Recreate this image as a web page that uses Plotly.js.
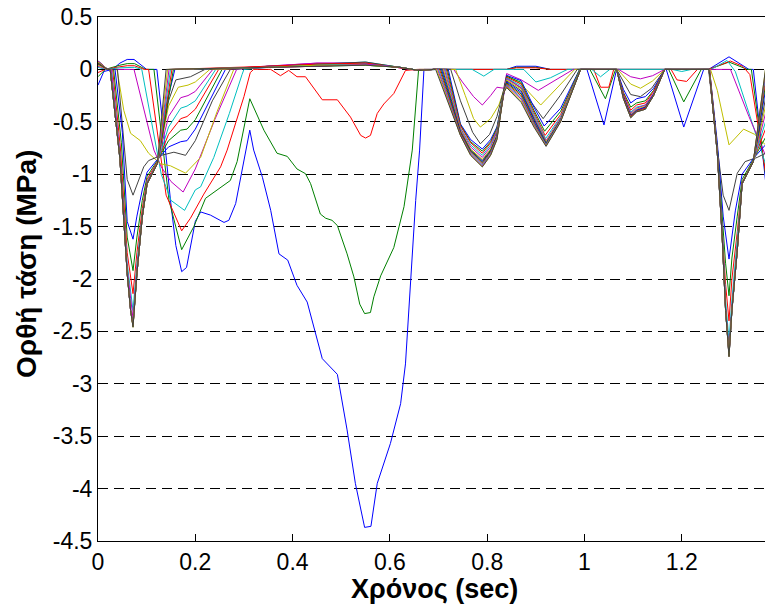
<!DOCTYPE html>
<html>
<head>
<meta charset="utf-8">
<script src="https://cdn.plot.ly/plotly-3.0.1.min.js"></script>
<style>html,body{margin:0;padding:0;background:#fff;}#chart{width:765px;height:615px;}</style>
</head>
<body>
<div id="chart"></div>
<script>
// Tick labels
const xTickVals = [0, 0.2, 0.4, 0.6, 0.8, 1, 1.2];
const xTickText = ["0", "0.2", "0.4", "0.6", "0.8", "1", "1.2"];
const yTickVals = [0.5, 0, -0.5, -1, -1.5, -2, -2.5, -3, -3.5, -4, -4.5];
const yTickText = ["0.5", "0", "-0.5", "-1", "-1.5", "-2", "-2.5", "-3", "-3.5", "-4", "-4.5"];
const xTitle = "Χρόνος (sec)";
const yTitle = "Ορθή τάση (MPa)";

// Series: [time (sec), stress (MPa)]
const c01 = [[0,-0.15],[0.012,-0.02],[0.03,0],[0.045,0.06],[0.06,0.095],[0.074,0.095],[0.1,0],[0.121,0],[0.135,-0.6],[0.149,-1.25],[0.16,-1.68],[0.172,-1.93],[0.182,-1.89],[0.2,-1.45],[0.211,-1.36],[0.231,-1.39],[0.259,-1.46],[0.269,-1.44],[0.283,-1.28],[0.296,-0.96],[0.307,-0.72],[0.312,-0.58],[0.32,-0.77],[0.338,-1.03],[0.355,-1.345],[0.372,-1.76],[0.39,-1.82],[0.409,-2.06],[0.43,-2.22],[0.447,-2.51],[0.461,-2.76],[0.492,-2.91],[0.512,-3.44],[0.529,-3.95],[0.548,-4.37],[0.561,-4.36],[0.574,-3.95],[0.601,-3.57],[0.622,-3.19],[0.632,-2.81],[0.642,-2.04],[0.653,-1.25],[0.661,-0.77],[0.67,0],[0.84,0],[0.86,0.03],[0.9,0.03],[0.93,0],[1.005,0],[1.04,-0.53],[1.066,0],[1.168,0],[1.204,-0.55],[1.245,0],[1.255,0],[1.297,0.12],[1.338,0],[1.347,0],[1.372,-1.06]];
const c02 = [[0,-0.07],[0.015,0],[0.045,0.04],[0.06,0.055],[0.075,0.055],[0.098,0],[0.115,0],[0.13,-0.6],[0.146,-1.25],[0.172,-1.72],[0.197,-1.5],[0.221,-1.23],[0.245,-1.15],[0.272,-1.06],[0.286,-0.88],[0.3,-0.55],[0.312,-0.28],[0.341,-0.58],[0.368,-0.8],[0.389,-0.83],[0.409,-0.95],[0.4265,-0.995],[0.437,-1.09],[0.457,-1.38],[0.468,-1.42],[0.481,-1.44],[0.492,-1.49],[0.512,-1.76],[0.526,-1.98],[0.538,-2.24],[0.548,-2.33],[0.56,-2.32],[0.567,-2.17],[0.581,-1.97],[0.608,-1.7],[0.629,-1.31],[0.639,-1.0],[0.646,-0.77],[0.659,0],[0.84,0],[0.86,0.02],[0.9,0.02],[0.93,0],[1.011,0],[1.043,-0.28],[1.064,0],[1.173,0],[1.204,-0.31],[1.24,0],[1.255,0],[1.297,0.07],[1.335,0],[1.343,0],[1.372,-1.0]];
const c03 = [[0,-0.03],[0.015,0],[0.045,0.025],[0.06,0.035],[0.075,0.035],[0.095,0],[0.104,0],[0.12,-0.55],[0.14,-1.2],[0.172,-1.54],[0.19,-1.42],[0.2175,-1.19],[0.252,-0.93],[0.2655,-0.77],[0.3,-0.26],[0.313,-0.03],[0.32,0],[0.355,0],[0.365,-0.03],[0.375,-0.06],[0.392,-0.01],[0.409,-0.07],[0.4265,-0.07],[0.4436,-0.18],[0.461,-0.29],[0.492,-0.29],[0.519,-0.455],[0.54,-0.63],[0.55,-0.655],[0.56,-0.63],[0.574,-0.42],[0.5875,-0.33],[0.608,-0.23],[0.632,-0.01],[0.656,0],[0.84,0],[0.86,0.015],[0.9,0.015],[0.93,0],[1.019,0],[1.033,-0.17],[1.05,-0.17],[1.06,0],[1.178,0],[1.19,-0.1],[1.21,-0.115],[1.232,0],[1.255,0],[1.3,0.08],[1.325,0.03],[1.34,-0.05],[1.372,-0.98]];
const c04 = [[0,0.02],[0.015,0],[0.045,0.015],[0.06,0.02],[0.075,0.02],[0.09,0],[0.11,-0.5],[0.13,-1.0],[0.15,-1.25],[0.178,-1.345],[0.2,-1.15],[0.211,-1.12],[0.238,-0.84],[0.27,-0.42],[0.296,-0.05],[0.3,0],[0.35,0.02],[0.45,0.04],[0.55,0.04],[0.62,0.02],[0.66,-0.01],[0.69,0],[0.769,0],[0.793,-0.064],[0.814,0],[0.875,0],[0.9,-0.12],[0.93,-0.08],[0.965,0],[1.015,0],[1.033,-0.07],[1.052,0],[1.18,0],[1.2,-0.02],[1.22,0],[1.26,0],[1.293,0.085],[1.31,-0.02],[1.334,-0.36],[1.372,-0.9]];
const c05 = [[0,0.03],[0.02,0],[0.074,0],[0.1,-0.5],[0.115,-0.77],[0.13,-0.93],[0.15,-1.07],[0.175,-1.17],[0.2,-0.95],[0.24,-0.48],[0.285,0],[0.35,0.03],[0.45,0.06],[0.55,0.06],[0.62,0.02],[0.66,-0.01],[0.69,0],[0.731,0],[0.749,-0.12],[0.772,-0.26],[0.79,-0.34],[0.807,-0.25],[0.82,-0.17],[0.834,-0.18],[0.84,-0.04],[0.87,-0.1],[0.905,-0.2],[0.94,-0.1],[0.977,0],[1.07,0],[1.095,-0.07],[1.115,-0.09],[1.14,-0.06],[1.165,0],[1.3,0],[1.338,-0.45],[1.372,-0.82]];
const c06 = [[0,0.04],[0.02,0],[0.039,0],[0.053,-0.39],[0.067,-0.61],[0.087,-0.68],[0.104,-0.8],[0.128,-0.9],[0.149,-0.92],[0.18,-0.99],[0.211,-0.84],[0.245,-0.4],[0.279,0],[0.35,0.03],[0.45,0.05],[0.55,0.06],[0.62,0.02],[0.66,-0.01],[0.69,0],[0.735,0],[0.755,-0.25],[0.772,-0.47],[0.786,-0.55],[0.807,-0.47],[0.824,-0.34],[0.834,-0.2],[0.84,-0.06],[0.87,-0.14],[0.91,-0.34],[0.945,-0.17],[0.98,0],[1.068,0],[1.095,-0.14],[1.115,-0.18],[1.14,-0.11],[1.165,0],[1.259,0],[1.273,-0.2],[1.297,-0.72],[1.327,-0.57],[1.35,-0.62],[1.372,-0.72]];
const c07 = [[0,0.05],[0.02,0],[0.04,0],[0.06,-1.05],[0.072,-1.2],[0.094,-0.93],[0.104,-0.87],[0.13,-0.82],[0.156,-0.79],[0.18,-0.82],[0.2,-0.68],[0.235,-0.3],[0.272,0],[0.35,0.03],[0.45,0.05],[0.55,0.05],[0.62,0.02],[0.66,-0.01],[0.69,0],[0.725,0],[0.745,-0.3],[0.77,-0.6],[0.786,-0.71],[0.805,-0.62],[0.82,-0.45],[0.834,-0.21],[0.84,-0.08],[0.87,-0.18],[0.915,-0.47],[0.95,-0.25],[0.985,0],[1.066,0],[1.095,-0.24],[1.115,-0.26],[1.138,-0.18],[1.165,0],[1.255,0],[1.273,-0.75],[1.285,-1.2],[1.297,-1.345],[1.314,-0.99],[1.33,-0.88],[1.355,-0.84],[1.372,-0.8]];
const c08 = [[0,0.06],[0.02,0],[0.035,0],[0.05,-0.6],[0.06,-1.45],[0.072,-1.62],[0.08,-1.4],[0.091,-1.15],[0.101,-0.98],[0.122,-0.86],[0.145,-0.74],[0.17,-0.69],[0.183,-0.68],[0.2,-0.57],[0.262,0],[0.35,0.02],[0.45,0.04],[0.55,0.05],[0.62,0.02],[0.66,-0.01],[0.69,0],[0.72,0],[0.745,-0.52],[0.766,-0.67],[0.79,-0.76],[0.807,-0.67],[0.82,-0.55],[0.834,-0.22],[0.84,-0.057],[0.87,-0.108],[0.896,-0.36],[0.917,-0.54],[0.951,-0.37],[0.971,-0.18],[0.99,0],[1.066,0],[1.08,-0.19],[1.095,-0.32],[1.107,-0.28],[1.125,-0.26],[1.142,-0.18],[1.165,0],[1.257,0],[1.273,-0.7],[1.285,-1.4],[1.297,-1.81],[1.31,-1.35],[1.324,-1.0],[1.347,-0.85],[1.372,-0.72]];
const c09 = [[0,0.07],[0.02,0],[0.032,0],[0.048,-0.7],[0.06,-1.6],[0.072,-1.92],[0.08,-1.6],[0.091,-1.25],[0.101,-1.02],[0.122,-0.87],[0.145,-0.68],[0.17,-0.58],[0.183,-0.57],[0.2,-0.48],[0.255,0],[0.35,0.03],[0.45,0.05],[0.55,0.06],[0.62,0.02],[0.66,-0.01],[0.69,0],[0.718,0],[0.745,-0.53],[0.766,-0.69],[0.79,-0.78],[0.807,-0.69],[0.82,-0.56],[0.834,-0.22],[0.84,-0.066],[0.87,-0.124],[0.896,-0.39],[0.918,-0.59],[0.951,-0.4],[0.971,-0.2],[0.99,0],[1.066,0],[1.08,-0.22],[1.095,-0.36],[1.107,-0.32],[1.125,-0.3],[1.142,-0.2],[1.165,0],[1.257,0],[1.273,-0.75],[1.284,-1.45],[1.29,-1.85],[1.297,-2.16],[1.303,-1.8],[1.314,-1.4],[1.324,-1.05],[1.347,-0.86],[1.372,-0.65]];
const c10 = [[0,0.07],[0.02,0],[0.03,0],[0.046,-0.75],[0.06,-1.75],[0.072,-2.14],[0.08,-1.75],[0.091,-1.33],[0.101,-1.05],[0.122,-0.88],[0.145,-0.62],[0.17,-0.47],[0.183,-0.45],[0.2,-0.38],[0.248,0],[0.35,0.02],[0.45,0.03],[0.55,0.05],[0.62,0.02],[0.66,-0.01],[0.69,0],[0.716,0],[0.745,-0.54],[0.766,-0.7],[0.79,-0.8],[0.807,-0.7],[0.82,-0.58],[0.834,-0.22],[0.84,-0.075],[0.87,-0.14],[0.896,-0.41],[0.919,-0.63],[0.951,-0.43],[0.971,-0.21],[0.991,0],[1.066,0],[1.08,-0.23],[1.095,-0.39],[1.107,-0.34],[1.125,-0.32],[1.142,-0.21],[1.165,0],[1.257,0],[1.273,-0.77],[1.284,-1.55],[1.29,-2.05],[1.297,-2.4],[1.303,-2.0],[1.314,-1.55],[1.324,-1.08],[1.347,-0.87],[1.372,-0.57]];
const c11 = [[0,0.08],[0.02,0],[0.028,0],[0.045,-0.8],[0.06,-1.85],[0.072,-2.3],[0.08,-1.85],[0.091,-1.38],[0.101,-1.07],[0.122,-0.89],[0.145,-0.55],[0.17,-0.37],[0.183,-0.35],[0.2,-0.3],[0.242,0],[0.35,0.03],[0.45,0.05],[0.55,0.07],[0.62,0.02],[0.66,-0.01],[0.69,0],[0.714,0],[0.745,-0.56],[0.766,-0.72],[0.79,-0.82],[0.807,-0.72],[0.82,-0.59],[0.834,-0.22],[0.84,-0.084],[0.87,-0.156],[0.896,-0.43],[0.92,-0.66],[0.951,-0.45],[0.971,-0.22],[0.991,0],[1.066,0],[1.08,-0.25],[1.095,-0.41],[1.107,-0.36],[1.125,-0.34],[1.142,-0.23],[1.165,0],[1.256,0],[1.273,-0.78],[1.284,-1.6],[1.29,-2.2],[1.297,-2.59],[1.303,-2.2],[1.314,-1.65],[1.324,-1.09],[1.347,-0.88],[1.372,-0.5]];
const c12 = [[0,0.08],[0.02,0],[0.027,0],[0.045,-0.8],[0.06,-1.9],[0.072,-2.38],[0.08,-1.9],[0.091,-1.4],[0.101,-1.08],[0.122,-0.89],[0.145,-0.45],[0.17,-0.27],[0.185,-0.25],[0.2,-0.21],[0.236,0],[0.35,0.03],[0.45,0.06],[0.55,0.06],[0.62,0.02],[0.66,-0.01],[0.69,0],[0.712,0],[0.745,-0.57],[0.766,-0.74],[0.79,-0.84],[0.807,-0.74],[0.82,-0.6],[0.834,-0.22],[0.84,-0.093],[0.87,-0.172],[0.896,-0.45],[0.921,-0.68],[0.951,-0.46],[0.971,-0.23],[0.992,0],[1.066,0],[1.08,-0.25],[1.095,-0.42],[1.107,-0.37],[1.125,-0.34],[1.142,-0.23],[1.165,0],[1.256,0],[1.273,-0.79],[1.284,-1.62],[1.29,-2.28],[1.297,-2.67],[1.303,-2.27],[1.314,-1.7],[1.324,-1.09],[1.347,-0.88],[1.372,-0.42]];
const c13 = [[0,0.07],[0.02,0],[0.025,0],[0.045,-0.85],[0.06,-1.95],[0.067,-2.3],[0.072,-2.42],[0.08,-1.95],[0.091,-1.41],[0.101,-1.09],[0.122,-0.89],[0.145,-0.35],[0.165,-0.17],[0.185,-0.15],[0.2,-0.12],[0.23,0],[0.35,0.02],[0.45,0.04],[0.55,0.06],[0.62,0.02],[0.66,-0.01],[0.69,0],[0.71,0],[0.745,-0.58],[0.766,-0.76],[0.79,-0.86],[0.807,-0.76],[0.82,-0.62],[0.834,-0.22],[0.84,-0.102],[0.87,-0.188],[0.896,-0.46],[0.921,-0.69],[0.951,-0.47],[0.971,-0.23],[0.992,0],[1.066,0],[1.08,-0.26],[1.095,-0.43],[1.107,-0.38],[1.125,-0.35],[1.142,-0.24],[1.165,0],[1.256,0],[1.273,-0.8],[1.283,-1.6],[1.29,-2.3],[1.297,-2.71],[1.303,-2.3],[1.314,-1.72],[1.324,-1.09],[1.347,-0.88],[1.372,-0.35]];
const c14 = [[0,0.06],[0.02,0],[0.025,0],[0.045,-0.85],[0.06,-1.95],[0.067,-2.3],[0.072,-2.44],[0.08,-1.95],[0.091,-1.41],[0.101,-1.09],[0.122,-0.9],[0.145,-0.3],[0.16,-0.1],[0.19,-0.07],[0.22,0],[0.35,0.03],[0.45,0.05],[0.55,0.07],[0.62,0.02],[0.66,-0.01],[0.69,0],[0.708,0],[0.745,-0.59],[0.766,-0.77],[0.79,-0.87],[0.807,-0.77],[0.82,-0.63],[0.834,-0.22],[0.84,-0.111],[0.87,-0.204],[0.896,-0.47],[0.921,-0.7],[0.951,-0.48],[0.971,-0.24],[0.992,0],[1.066,0],[1.08,-0.26],[1.095,-0.44],[1.107,-0.39],[1.125,-0.36],[1.142,-0.24],[1.165,0],[1.256,0],[1.273,-0.8],[1.283,-1.6],[1.29,-2.3],[1.297,-2.72],[1.303,-2.3],[1.314,-1.73],[1.324,-1.09],[1.347,-0.88],[1.372,-0.28]];
const c15 = [[0,0.07],[0.02,0],[0.025,0],[0.045,-0.85],[0.06,-1.95],[0.067,-2.3],[0.072,-2.44],[0.08,-1.95],[0.091,-1.41],[0.101,-1.09],[0.122,-0.9],[0.14,-0.35],[0.158,0],[0.35,0.02],[0.45,0.04],[0.55,0.05],[0.62,0.02],[0.66,-0.01],[0.69,0],[0.706,0],[0.745,-0.6],[0.766,-0.78],[0.79,-0.88],[0.807,-0.78],[0.82,-0.64],[0.834,-0.22],[0.84,-0.12],[0.87,-0.22],[0.896,-0.48],[0.921,-0.71],[0.951,-0.48],[0.971,-0.24],[0.992,0],[1.066,0],[1.08,-0.26],[1.095,-0.44],[1.107,-0.39],[1.125,-0.36],[1.142,-0.24],[1.165,0],[1.256,0],[1.273,-0.8],[1.283,-1.6],[1.29,-2.3],[1.297,-2.73],[1.303,-2.3],[1.314,-1.73],[1.324,-1.09],[1.347,-0.88],[1.372,-0.2]];
const c16 = [[0,0.08],[0.02,0],[0.025,0],[0.045,-0.85],[0.06,-1.95],[0.067,-2.3],[0.072,-2.45],[0.08,-1.95],[0.091,-1.41],[0.101,-1.09],[0.122,-0.9],[0.155,0],[0.35,0.02],[0.45,0.03],[0.55,0.04],[0.62,0.02],[0.66,-0.01],[0.69,0],[0.704,0],[0.745,-0.605],[0.766,-0.78],[0.79,-0.89],[0.807,-0.78],[0.82,-0.64],[0.834,-0.22],[0.84,-0.129],[0.87,-0.236],[0.896,-0.5],[0.921,-0.715],[0.951,-0.486],[0.971,-0.243],[0.992,0],[1.066,0],[1.08,-0.27],[1.095,-0.45],[1.107,-0.4],[1.125,-0.37],[1.142,-0.25],[1.165,0],[1.256,0],[1.273,-0.8],[1.283,-1.6],[1.29,-2.3],[1.297,-2.73],[1.303,-2.3],[1.314,-1.73],[1.324,-1.09],[1.347,-0.88],[1.372,-0.15]];
const c17 = [[0,0.06],[0.02,0],[0.025,0],[0.045,-0.85],[0.06,-1.95],[0.067,-2.3],[0.072,-2.45],[0.08,-1.95],[0.091,-1.41],[0.101,-1.09],[0.122,-0.9],[0.152,0],[0.35,0.03],[0.45,0.05],[0.55,0.06],[0.62,0.02],[0.66,-0.01],[0.69,0],[0.702,0],[0.745,-0.61],[0.766,-0.79],[0.79,-0.9],[0.807,-0.79],[0.82,-0.65],[0.834,-0.22],[0.84,-0.138],[0.87,-0.252],[0.896,-0.51],[0.921,-0.72],[0.951,-0.49],[0.971,-0.245],[0.992,0],[1.066,0],[1.08,-0.27],[1.095,-0.45],[1.107,-0.4],[1.125,-0.37],[1.142,-0.25],[1.165,0],[1.256,0],[1.273,-0.8],[1.283,-1.6],[1.29,-2.3],[1.297,-2.73],[1.303,-2.3],[1.314,-1.73],[1.324,-1.09],[1.347,-0.88],[1.372,-0.1]];
const c18 = [[0,0.07],[0.02,0],[0.025,0],[0.045,-0.85],[0.06,-1.95],[0.067,-2.3],[0.072,-2.45],[0.08,-1.95],[0.091,-1.41],[0.101,-1.09],[0.122,-0.9],[0.149,0],[0.35,0.02],[0.45,0.04],[0.55,0.05],[0.62,0.02],[0.66,-0.01],[0.69,0],[0.7,0],[0.745,-0.62],[0.766,-0.8],[0.79,-0.91],[0.807,-0.8],[0.82,-0.655],[0.834,-0.22],[0.84,-0.147],[0.87,-0.268],[0.896,-0.52],[0.921,-0.72],[0.951,-0.49],[0.971,-0.245],[0.992,0],[1.066,0],[1.08,-0.28],[1.095,-0.46],[1.107,-0.405],[1.125,-0.38],[1.142,-0.25],[1.165,0],[1.256,0],[1.273,-0.8],[1.283,-1.6],[1.29,-2.3],[1.297,-2.74],[1.303,-2.3],[1.314,-1.73],[1.324,-1.09],[1.347,-0.88],[1.372,-0.06]];
const c19 = [[0,0.08],[0.02,0],[0.025,0],[0.045,-0.85],[0.06,-1.95],[0.067,-2.3],[0.072,-2.45],[0.08,-1.95],[0.091,-1.41],[0.101,-1.09],[0.122,-0.9],[0.146,0],[0.35,0.02],[0.45,0.03],[0.55,0.05],[0.62,0.02],[0.66,-0.01],[0.69,0],[0.698,0],[0.745,-0.625],[0.766,-0.81],[0.79,-0.92],[0.807,-0.81],[0.82,-0.66],[0.834,-0.22],[0.84,-0.156],[0.87,-0.284],[0.896,-0.53],[0.921,-0.725],[0.951,-0.493],[0.971,-0.247],[0.992,0],[1.066,0],[1.08,-0.28],[1.095,-0.46],[1.107,-0.405],[1.125,-0.38],[1.142,-0.25],[1.165,0],[1.256,0],[1.273,-0.8],[1.283,-1.6],[1.29,-2.3],[1.297,-2.74],[1.303,-2.3],[1.314,-1.73],[1.324,-1.09],[1.347,-0.88],[1.372,-0.03]];
const c20 = [[0,0.07],[0.02,0],[0.025,0],[0.045,-0.85],[0.06,-1.95],[0.067,-2.3],[0.072,-2.46],[0.08,-1.95],[0.091,-1.41],[0.101,-1.09],[0.122,-0.9],[0.143,0],[0.35,0.02],[0.45,0.04],[0.55,0.04],[0.62,0.02],[0.66,-0.01],[0.69,0],[0.696,0],[0.745,-0.63],[0.766,-0.82],[0.79,-0.93],[0.807,-0.82],[0.82,-0.67],[0.834,-0.22],[0.84,-0.165],[0.87,-0.3],[0.896,-0.54],[0.921,-0.73],[0.951,-0.496],[0.971,-0.248],[0.992,0],[1.066,0],[1.08,-0.28],[1.095,-0.46],[1.107,-0.405],[1.125,-0.38],[1.142,-0.25],[1.165,0],[1.256,0],[1.273,-0.8],[1.283,-1.6],[1.29,-2.3],[1.297,-2.74],[1.303,-2.3],[1.314,-1.73],[1.324,-1.09],[1.347,-0.88],[1.372,0]];
const c21 = [[0,0.06],[0.02,0],[0.025,0],[0.045,-0.85],[0.06,-1.95],[0.067,-2.3],[0.072,-2.46],[0.08,-1.95],[0.091,-1.41],[0.101,-1.09],[0.122,-0.9],[0.14,0],[0.35,0.02],[0.45,0.03],[0.55,0.04],[0.62,0.02],[0.66,-0.01],[0.69,0],[0.694,0],[0.745,-0.63],[0.766,-0.82],[0.79,-0.93],[0.807,-0.82],[0.82,-0.67],[0.834,-0.22],[0.84,-0.174],[0.87,-0.316],[0.896,-0.55],[0.921,-0.735],[0.951,-0.5],[0.971,-0.25],[0.992,0],[1.066,0],[1.08,-0.28],[1.095,-0.46],[1.107,-0.405],[1.125,-0.38],[1.142,-0.25],[1.165,0],[1.256,0],[1.273,-0.8],[1.283,-1.6],[1.29,-2.3],[1.297,-2.74],[1.303,-2.3],[1.314,-1.73],[1.324,-1.09],[1.347,-0.88],[1.372,0]];

const seriesList = [c01,c02,c03,c04,c05,c06,c07,c08,c09,c10,c11,c12,c13,c14,c15,c16,c17,c18,c19,c20,c21];
const colorOrder = ["#0000ff","#008000","#ff0000","#00bfbf","#bf00bf","#bfbf00","#404040"];

const traces = seriesList.map((s, i) => ({
  type: "scatter",
  mode: "lines",
  x: s.map(p => p[0]),
  y: s.map(p => p[1]),
  line: {color: colorOrder[i % 7], width: 1},
  hoverinfo: "skip",
  showlegend: false
}));

const fam = "Liberation Sans, Arial, Helvetica, sans-serif";
const tickFont = {family: fam, size: 23, color: "#000"};
const titleFont = {family: fam, size: 27, color: "#000", weight: "bold"};
const yTitleFont = {family: fam, size: 28, color: "#000", weight: "bold"};

const layout = {
  width: 765, height: 615,
  margin: {l: 98, r: 0, t: 17, b: 74, pad: 0},
  paper_bgcolor: "#ffffff", plot_bgcolor: "#ffffff",
  showlegend: false,
  xaxis: {
    range: [0, 1.371], tickmode: "array", tickvals: xTickVals, ticktext: xTickText,
    ticks: "inside", ticklen: 7, tickcolor: "#000", tickwidth: 1,
    showline: true, linecolor: "#000", linewidth: 1, mirror: "ticks",
    showgrid: false, zeroline: false, tickfont: tickFont,
    title: {text: ""}
  },
  yaxis: {
    range: [-4.5, 0.5], tickmode: "array", tickvals: yTickVals, ticktext: yTickText,
    ticks: "inside", ticklen: 7, tickcolor: "#000", tickwidth: 1,
    showline: true, linecolor: "#000", linewidth: 1, mirror: false,
    showgrid: true, gridcolor: "#000", gridwidth: 1, griddash: "10px,6px",
    zeroline: false, tickfont: tickFont,
    title: {text: ""}
  },
  annotations: [
    {text: xTitle, xref: "paper", yref: "paper", x: 0.505, y: -0.091, xanchor: "center", yanchor: "middle", showarrow: false, font: titleFont},
    {text: yTitle, xref: "paper", yref: "paper", x: -0.107, y: 0.528, xanchor: "center", yanchor: "middle", textangle: -90, showarrow: false, font: yTitleFont}
  ]
};

Plotly.newPlot("chart", traces, layout, {staticPlot: true, displayModeBar: false});
</script>
</body>
</html>
